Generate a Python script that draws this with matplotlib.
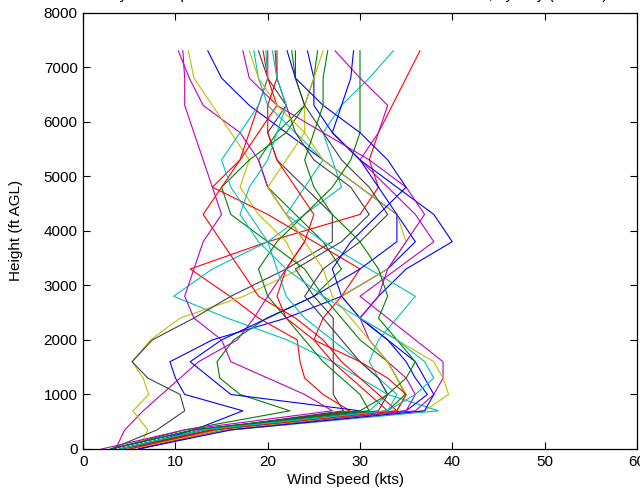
import matplotlib
matplotlib.use('Agg')
import matplotlib.pyplot as plt
from cycler import cycler

# heights of the profiler gates (ft AGL)
heights = [0, 350, 700, 1000, 1300, 1600, 2000, 2400, 2800, 3300,
           3800, 4300, 4800, 5300, 5800, 6300, 6800, 7300]

# wind speed profiles (kts), one list per case
profiles = [
    [5, 12, 17.3, 11, 10, 9.4, 14, 22, 28, 33, 36, 34, 30, 26, 22, 18, 15, 13.5],
    [3, 11, 22.4, 17, 14.8, 14.5, 16.3, 19.9, 25, 28, 26, 23, 20, 19, 21, 24, 23, 22.6],
    [4, 13, 28.9, 26, 24, 23.5, 23.2, 19, 15.9, 11.6, 20, 30, 32, 31, 32, 33.5, 35, 36.5],
    [5, 16, 38.5, 33, 30, 27, 22.1, 15.6, 9.8, 14, 20, 24, 28, 27, 26, 28, 31, 33.6],
    [3.5, 4.5, 6.5, 8.5, 10.5, 12.5, 16.7, 18.5, 20, 22, 24, 22, 20, 19, 17, 13, 11.5, 10.3],
    [6, 7, 5.4, 7.1, 6.5, 5.3, 7.3, 10.5, 17.4, 23.5, 22, 19, 17, 18, 16, 14, 12, 11.4],
    [3, 8, 11, 10.5, 7, 5.3, 7.5, 12, 16, 22, 27, 27, 24, 21, 20, 22, 20, 19],
    [6, 15, 35, 37.3, 36, 35, 33, 30, 32, 35, 40, 38, 34, 30, 27, 25, 25, 24.3],
    [4, 14, 33, 34.9, 34, 33, 30, 28, 26, 24, 20, 16, 15, 18, 22, 24, 25, 25.4],
    [5, 14, 33, 31, 29, 27, 25, 26, 28, 30, 25, 20, 14, 17, 19, 21, 20, 19.5],
    [3, 12, 31, 33, 32, 31, 32, 34, 36, 31, 26, 22, 24, 26, 23, 20, 19, 18.5],
    [4, 15, 36, 38, 39, 39, 36, 33, 30, 34, 38, 36, 33, 30, 32, 33, 30, 27.3],
    [5, 16, 37, 39.6, 39, 38, 34, 30, 28, 33, 35, 34, 30, 26, 24, 24, 25, 26],
    [4, 13, 28.2, 27.1, 27.1, 27.1, 27.1, 27.1, 25, 23, 28, 31, 29, 25, 23, 22, 21, 21],
    [3, 12, 30, 16, 13.8, 11.6, 15, 20, 25, 30, 34, 34, 32, 30, 27, 28, 29, 29.3],
    [4, 13, 31, 30, 28, 26, 24, 22, 20, 19, 21, 24, 27, 29, 30, 30, 30, 30],
    [6, 15, 34, 32, 30, 28, 26, 23, 19, 17, 15, 13, 15, 17, 18, 19, 20, 20],
    [5, 14, 33, 34, 32, 30, 27, 24, 22, 21, 20, 18, 16, 15, 17, 19, 20, 19.8],
    [4, 15, 35, 36, 35, 33, 31, 30, 32, 33, 35, 37, 35, 31, 26, 21, 18, 17.3],
    [5, 15, 34, 35, 34, 33, 31, 29, 27, 26, 24, 22, 20, 22, 24, 21, 19, 18],
    [4, 14, 32, 33, 32, 30, 28, 26, 24, 26, 30, 33, 31, 28, 26, 24, 23, 23],
    [6, 16, 37, 38, 37, 36, 33, 30, 28, 27, 29, 32, 35, 33, 30, 26, 23, 22.1],
    [3, 12, 30, 33, 35, 36, 34, 32, 33, 32, 30, 27, 25, 24, 25, 26, 26, 26.5],
    [5, 14, 34, 35, 33, 30, 25, 22, 21, 22, 24, 25, 23, 21, 20, 20, 21, 20.8],
    [4, 13, 33, 36, 38, 37, 34, 30, 26, 22, 19, 17, 18, 20, 21, 22, 21, 20.5],
    [2, 11, 27, 24, 20, 16, 15, 12, 11, 12, 13, 15, 14, 13, 12, 11, 11, 10.8],
]

# MATLAB default line colour order
matlab_colors = [(0, 0, 1), (0, 0.5, 0), (1, 0, 0), (0, 0.75, 0.75),
                 (0.75, 0, 0.75), (0.75, 0.75, 0), (0.25, 0.25, 0.25)]

plt.rcParams['font.family'] = ['Liberation Sans', 'DejaVu Sans']
plt.rcParams['axes.prop_cycle'] = cycler(color=matlab_colors)

fig = plt.figure(figsize=(6.4, 4.97), dpi=100)
ax = fig.add_axes([0.130, 0.0966, 0.865, 0.878])

for speeds in profiles:
    ax.plot(speeds, heights, linewidth=0.8)

ax.set_xlim(0, 60)
ax.set_ylim(0, 8000)
ax.set_xticks(range(0, 61, 10))
ax.set_yticks(range(0, 8001, 1000))
ax.tick_params(direction='in', length=5, width=0.8, labelsize=11,
               top=True, right=True, pad=4)
for sp in ax.spines.values():
    sp.set_linewidth(0.9)

ax.set_xlabel('Wind Speed (kts)', fontsize=11, labelpad=2)
ax.xaxis.set_label_coords(0.473, -0.055)
ax.set_ylabel('Height (ft AGL)', fontsize=11)
ax.yaxis.set_label_coords(-0.108, 0.5)

# title sits almost entirely above the top edge of the image
fig.text(0.54, 1 + 1.0 / 497, 'Hourly Wind Speed Profiles: Nocturnal Low-Level Jet Cases, by Day (Profiler)',
         ha='center', va='baseline', fontsize=11)

fig.savefig('out.png', dpi=100)
